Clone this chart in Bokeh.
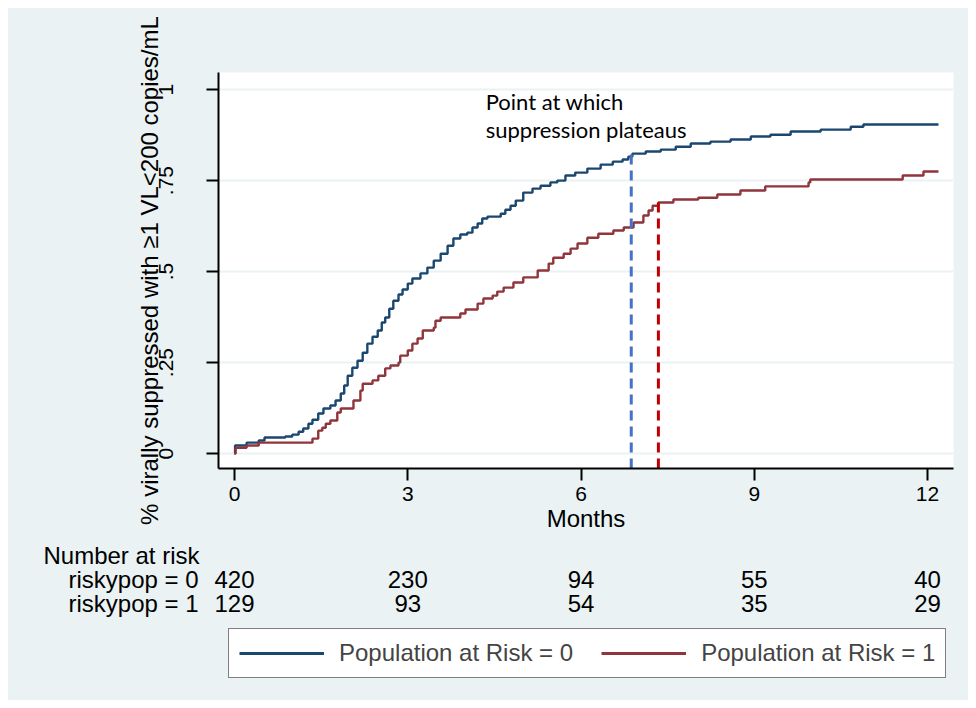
from bokeh.plotting import figure
from bokeh.models import (Range1d, FixedTicker, Label, ColumnDataSource, Legend, LegendItem)
from bokeh.layouts import column
from bokeh.core.properties import value
from bokeh.embed import file_html
from bokeh.resources import INLINE

# ---------------- data ----------------
blue_t = [0, 0.01, 0.21, 0.42, 0.52, 0.88, 1.00, 1.11, 1.19, 1.28, 1.35, 1.45, 1.54, 1.66, 1.75,
          1.84, 1.90, 1.96, 2.04, 2.13, 2.22, 2.30, 2.39, 2.48, 2.55, 2.61, 2.68, 2.75, 2.84, 2.91,
          3.00, 3.08, 3.22, 3.34, 3.45, 3.57, 3.69, 3.79, 3.91, 4.03, 4.12, 4.21, 4.29, 4.38, 4.61,
          4.69, 4.78, 4.87, 5.00, 5.16, 5.30, 5.47, 5.59, 5.73, 5.90, 6.11, 6.34, 6.55, 6.72, 6.82,
          6.89, 7.12, 7.38, 7.64, 7.90, 8.24, 8.59, 8.94, 9.28, 9.63, 10.15, 10.67, 10.89, 12.19]
blue_v = [0, 0.022, 0.030, 0.036, 0.044, 0.047, 0.052, 0.060, 0.069, 0.082, 0.093, 0.110, 0.124,
          0.132, 0.146, 0.165, 0.187, 0.214, 0.236, 0.255, 0.277, 0.302, 0.321, 0.338, 0.360,
          0.374, 0.398, 0.420, 0.437, 0.451, 0.467, 0.481, 0.495, 0.511, 0.530, 0.549, 0.571,
          0.591, 0.602, 0.607, 0.621, 0.632, 0.646, 0.651, 0.659, 0.670, 0.681, 0.695, 0.717,
          0.728, 0.736, 0.745, 0.750, 0.764, 0.772, 0.783, 0.794, 0.802, 0.808, 0.816, 0.824,
          0.830, 0.835, 0.843, 0.852, 0.857, 0.863, 0.871, 0.876, 0.885, 0.890, 0.898, 0.904, 0.904]

red_t = [0, 0.02, 0.21, 0.42, 1.35, 1.45, 1.52, 1.58, 1.66, 1.78, 1.84, 2.06, 2.18, 2.22, 2.39,
         2.49, 2.61, 2.70, 2.84, 2.87, 3.00, 3.08, 3.17, 3.26, 3.45, 3.48, 3.57, 3.91, 4.00, 4.21,
         4.31, 4.47, 4.55, 4.66, 4.83, 5.00, 5.25, 5.44, 5.52, 5.70, 5.82, 5.94, 6.11, 6.30, 6.56,
         6.74, 6.91, 7.08, 7.17, 7.24, 7.34, 7.60, 8.03, 8.36, 8.76, 9.19, 9.94, 9.97, 11.57, 11.93,
         12.19]
red_v = [0, 0.016, 0.022, 0.030, 0.041, 0.063, 0.071, 0.082, 0.091, 0.113, 0.124, 0.146, 0.173,
         0.192, 0.201, 0.214, 0.234, 0.242, 0.250, 0.269, 0.283, 0.302, 0.316, 0.338, 0.346,
         0.365, 0.374, 0.385, 0.396, 0.412, 0.426, 0.434, 0.445, 0.456, 0.470, 0.484, 0.503,
         0.522, 0.538, 0.549, 0.563, 0.577, 0.593, 0.604, 0.613, 0.621, 0.635, 0.654, 0.668,
         0.681, 0.690, 0.698, 0.703, 0.712, 0.723, 0.734, 0.745, 0.753, 0.764, 0.775, 0.775]

plateau_t = [6.87, 7.34]
plateau_v = [0.824, 0.690]
plateau_colors = ["#4472C4", "#C00000"]

x_ticks = [0, 3, 6, 9, 12]
y_ticks = [0, 0.25, 0.5, 0.75, 1]
y_tick_labels = ["0", ".25", ".5", ".75", "1"]

risk_times = [0, 3, 6, 9, 12]
risk0 = [420, 230, 94, 55, 40]
risk1 = [129, 93, 54, 35, 29]
table_rows = [2, 1, 0]
table_header = "Number at risk"
table_row_labels = ["riskypop = 0", "riskypop = 1"]
series_names = ["Population at Risk = 0", "Population at Risk = 1"]

BG = "#EAF2F3"
NAVY = "#1A476F"
MAROON = "#90353B"
FONT = "Liberation Sans"

W, H1, H2 = 960, 532, 160
BL, BR = 210, 15

xr = Range1d(-0.277, 12.45)
yr = Range1d(-0.041, 1.047)

# ---------------- main plot ----------------
p = figure(width=W, height=H1, x_range=xr, y_range=yr, output_backend="svg",
           toolbar_location=None, min_border_left=BL, min_border_right=BR,
           min_border_top=64, min_border_bottom=72)
p.frame_align = False
p.border_fill_color = BG
p.background_fill_color = "white"
p.outline_line_color = None

p.xgrid.visible = False
p.ygrid.ticker = FixedTicker(ticks=y_ticks)
p.ygrid.grid_line_color = BG
p.ygrid.grid_line_width = 2

for ax in (p.xaxis[0], p.yaxis[0]):
    ax.axis_line_color = "black"
    ax.axis_line_width = 2
    ax.major_tick_line_color = "black"
    ax.major_tick_line_width = 2
    ax.major_tick_out = 12
    ax.major_tick_in = 0
    ax.minor_tick_line_color = None
    ax.major_label_text_font = FONT
    ax.major_label_text_font_size = "21px"
    ax.major_label_text_color = "black"
    ax.axis_label_text_font = FONT
    ax.axis_label_text_font_size = "24px"
    ax.axis_label_text_font_style = "normal"
    ax.axis_label_text_color = "black"

p.xaxis.ticker = FixedTicker(ticks=x_ticks)
p.xaxis.axis_label = "Months"
p.xaxis.major_label_standoff = 6
p.xaxis.axis_label_standoff = 1

p.yaxis.ticker = FixedTicker(ticks=y_ticks)
p.yaxis.major_label_overrides = {t: l for t, l in zip(y_ticks, y_tick_labels)}
p.yaxis.major_label_orientation = "vertical"
p.yaxis.major_label_standoff = 33
p.yaxis.axis_label = "% virally suppressed with \u22651 VL<200 copies/mL"
p.yaxis.axis_label_standoff = -6

p.step(blue_t, blue_v, mode="after", line_color=NAVY, line_width=2.4)
p.step(red_t, red_v, mode="after", line_color=MAROON, line_width=2.4)

p.segment(x0=plateau_t, y0=[yr.start] * len(plateau_t), x1=plateau_t, y1=plateau_v,
          line_color=plateau_colors, line_width=3, line_dash="10 6")

p.add_layout(Label(x=4.35, y=1.005, text="Point at which\nsuppression plateaus",
                   text_font="Lato", text_font_size="22px", text_color="black",
                   text_baseline="top", text_align="left", text_line_height=1.06))

# ---------------- risk table + legend ----------------
# this panel's frame spans the full width; its x range extends the main one
# to the left by the main plot's left border, so that times line up exactly
span = xr.end - xr.start
frame_w = W - BL - BR
qxr = Range1d(xr.start - BL * span / frame_w, xr.end)

q = figure(width=W, height=H2, x_range=qxr, y_range=Range1d(-4.04, 2.625),
           output_backend="svg", toolbar_location=None, min_border_left=0,
           min_border_right=BR, min_border_top=0, min_border_bottom=0,
           x_axis_type=None, y_axis_type=None)
q.frame_align = False
q.border_fill_color = BG
q.background_fill_color = BG
q.outline_line_color = None
q.grid.visible = False

src = ColumnDataSource(dict(
    x=risk_times + risk_times,
    y=[table_rows[1]] * len(risk0) + [table_rows[2]] * len(risk1),
    text=[str(v) for v in risk0] + [str(v) for v in risk1],
))
q.text(x="x", y="y", text="text", source=src, text_font=value(FONT),
       text_font_size="24px", text_align="center", text_baseline="middle",
       text_color="black")

q.text(x=[risk_times[0]], y=[table_rows[0]], text=[table_header], x_offset=-191,
       text_font=value(FONT), text_font_size="24px", text_align="left",
       text_baseline="middle", text_color="black")
q.text(x=[risk_times[0]] * 2, y=table_rows[1:], text=table_row_labels, x_offset=-166,
       text_font=value(FONT), text_font_size="24px", text_align="left",
       text_baseline="middle", text_color="black")

nan = float("nan")
d0 = q.line(x=risk_times[:1], y=[nan], line_color=NAVY, line_width=3)
d1 = q.line(x=risk_times[:1], y=[nan], line_color=MAROON, line_width=3)
leg = Legend(items=[LegendItem(label=series_names[0], renderers=[d0]),
                    LegendItem(label=series_names[1], renderers=[d1])],
             orientation="horizontal", location=(BL + 10, 22),
             label_text_font=FONT, label_text_font_size="24px",
             glyph_width=85, glyph_height=28, label_height=28, label_standoff=15,
             spacing=28, padding=10, margin=0,
             border_line_color="black", border_line_width=1,
             background_fill_color="white", background_fill_alpha=1)
q.add_layout(leg)

layout = column(p, q, spacing=0, margin=(8, 8, 8, 8), styles={"background-color": BG})
open("out.html", "w").write(file_html(layout, INLINE))
